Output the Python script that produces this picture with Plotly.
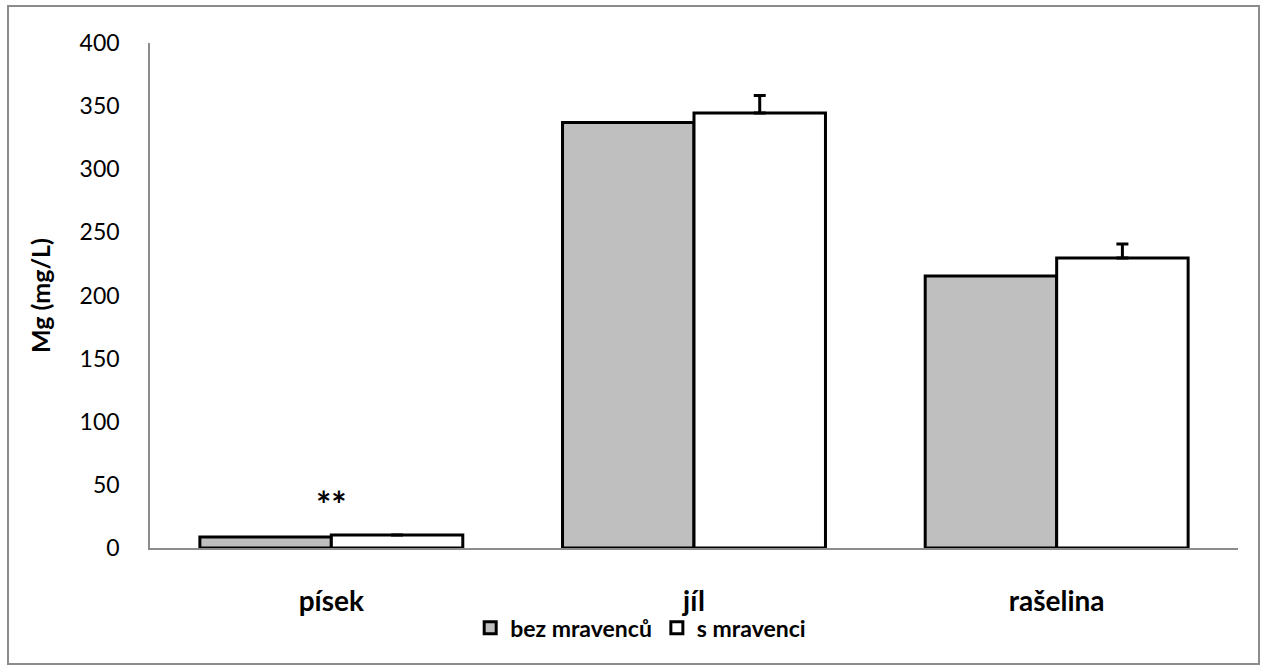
import plotly.graph_objects as go

categories = ["písek", "jíl", "rašelina"]
bez_mravencu = [8.7, 337, 215.5]
s_mravenci = [10.3, 344.5, 229.8]
s_mravenci_err = [None, 14, 11]
y_ticks = [0, 50, 100, 150, 200, 250, 300, 350, 400]

FONT = "Lato"

fig = go.Figure()
fig.add_trace(go.Bar(
    name="bez mravenců", x=categories, y=bez_mravencu,
    marker=dict(color="#BFBFBF", line=dict(color="black", width=3)),
))
fig.add_trace(go.Bar(
    name="s mravenci", x=categories, y=s_mravenci,
    marker=dict(color="white", line=dict(color="black", width=3)),
    error_y=dict(type="data", array=s_mravenci_err, symmetric=False,
                 arrayminus=[None, 0, 0], color="black", thickness=3, width=6,
                 visible=True),
))

fig.add_annotation(x=categories[0], y=35, text="<b>**</b>", showarrow=False,
                   font=dict(family=FONT, size=36, color="black"))

fig.add_shape(type="rect", xref="paper", yref="paper",
              x0=-0.1305, x1=1.0193, y0=-0.2297, y1=1.0733,
              line=dict(color="#8C8C8C", width=2), layer="below")

fig.update_layout(
    width=1266, height=667,
    margin=dict(l=150, r=28, t=43, b=119),
    paper_bgcolor="white", plot_bgcolor="white",
    barmode="group", bargap=0.275, bargroupgap=0,
    font=dict(family=FONT, color="black"),
    legend=dict(orientation="h", x=0.451, xanchor="center", y=-0.158,
                yanchor="middle", bgcolor="rgba(0,0,0,0)",
                font=dict(family=FONT, size=23, color="black", weight="bold"),
                itemwidth=30, traceorder="normal"),
    xaxis=dict(showline=True, linecolor="#8C8C8C", linewidth=1.5,
               ticks="", showgrid=False, ticklabelstandoff=28, automargin=False,
               tickfont=dict(family=FONT, size=28, color="black", weight="bold")),
    yaxis=dict(range=[0, 400], tickvals=y_ticks, showline=True,
               linecolor="#8C8C8C", linewidth=1.5, showgrid=False, zeroline=False,
               ticks="", ticklabelstandoff=24,
               tickfont=dict(family=FONT, size=23, color="black"),
               title=dict(text="<b>Mg (mg/L)</b>", standoff=22,
                          font=dict(family=FONT, size=25, color="black"))),
)
fig.write_html("out.html", config={"displayModeBar": False},
               post_script="document.body.style.margin='0';")
